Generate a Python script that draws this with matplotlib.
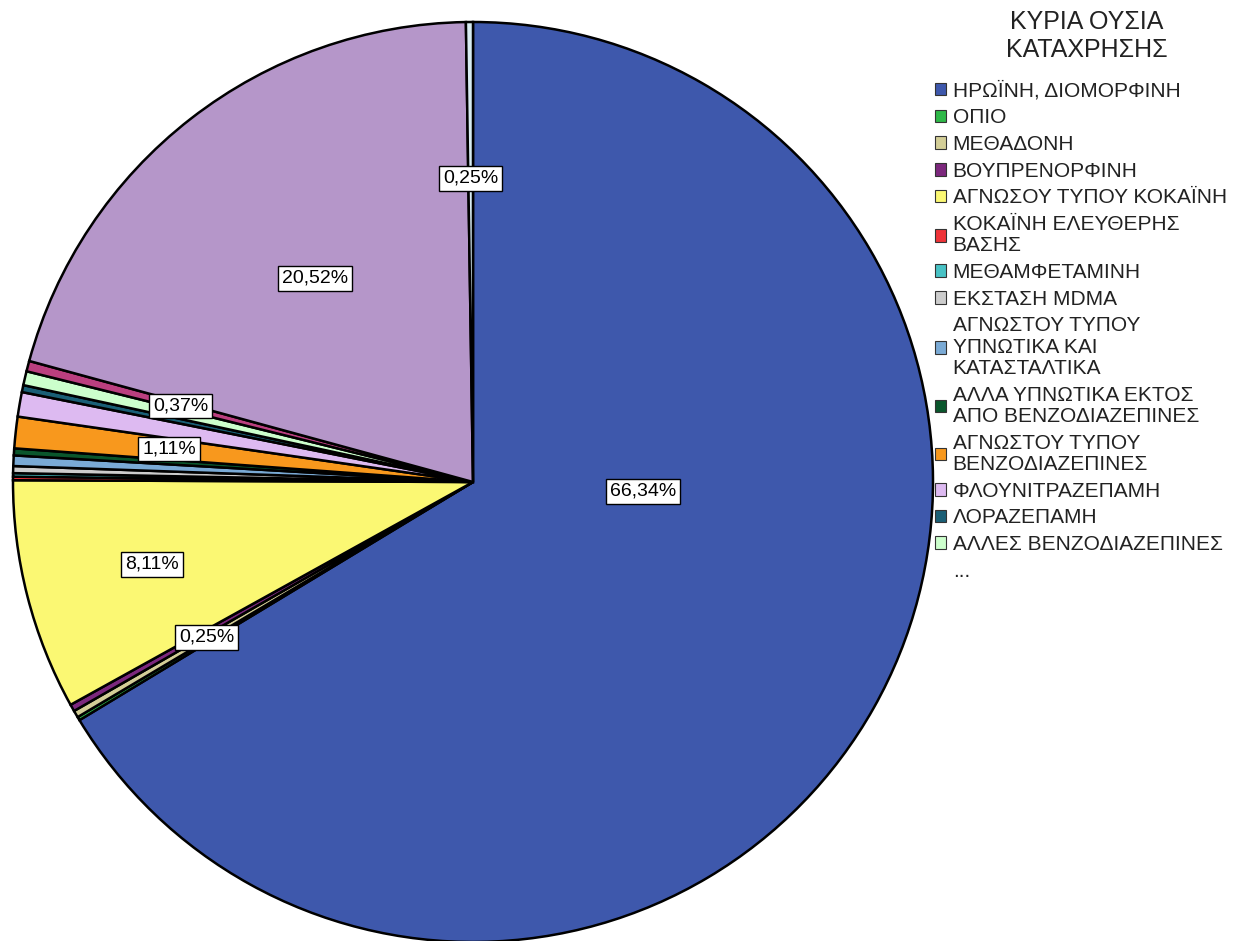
import matplotlib.pyplot as plt
from matplotlib.patches import Patch
import numpy as np

plt.rcParams['font.family'] = ['Liberation Sans', 'DejaVu Sans']

# case counts per substance (N = 814)
categories = ["ΗΡΩΪΝΗ, ΔΙΟΜΟΡΦΙΝΗ", "ΟΠΙΟ", "ΜΕΘΑΔΟΝΗ", "ΒΟΥΠΡΕΝΟΡΦΙΝΗ",
              "ΑΓΝΩΣΟΥ ΤΥΠΟΥ ΚΟΚΑΪΝΗ", "ΚΟΚΑΪΝΗ ΕΛΕΥΘΕΡΗΣ\nΒΑΣΗΣ", "ΜΕΘΑΜΦΕΤΑΜΙΝΗ",
              "ΕΚΣΤΑΣΗ MDMA", "ΑΓΝΩΣΤΟΥ ΤΥΠΟΥ\nΥΠΝΩΤΙΚΑ ΚΑΙ\nΚΑΤΑΣΤΑΛΤΙΚΑ",
              "ΑΛΛΑ ΥΠΝΩΤΙΚΑ ΕΚΤΟΣ\nΑΠΟ ΒΕΝΖΟΔΙΑΖΕΠΙΝΕΣ", "ΑΓΝΩΣΤΟΥ ΤΥΠΟΥ\nΒΕΝΖΟΔΙΑΖΕΠΙΝΕΣ",
              "ΦΛΟΥΝΙΤΡΑΖΕΠΑΜΗ", "ΛΟΡΑΖΕΠΑΜΗ", "ΑΛΛΕΣ ΒΕΝΖΟΔΙΑΖΕΠΙΝΕΣ",
              "", "", ""]  # last three are hidden behind "..." in the legend
counts = [540, 1, 2, 2, 66, 1, 1, 2, 3, 2, 9, 7, 2, 4, 3, 167, 2]
colors = ["#3e58ac", "#2eb848", "#d3ce97", "#7c287d", "#fbf873", "#ef3338",
          "#48c2c5", "#cccccc", "#7aaad5", "#0a562c", "#f8981d", "#ddbaf1",
          "#1a5f76", "#ccffcc", "#bb3f7f", "#b596c9", "#d8ecf2"]
labeled = [0, 2, 4, 10, 14, 15, 16]
label_r = {0: 0.37, 2: 0.67, 4: 0.72, 10: 0.665, 14: 0.656, 15: 0.56, 16: 0.66}
n_legend = 14
legend_title = "ΚΥΡΙΑ ΟΥΣΙΑ\nΚΑΤΑΧΡΗΣΗΣ"

fig = plt.figure(figsize=(12.44, 9.41), dpi=100)
R = 460
cx, cy = 473, 482
ax = fig.add_axes([(cx - R) / 1244, (941 - cy - R) / 941, 2 * R / 1244, 2 * R / 941])

wedges, _ = ax.pie(counts, colors=colors, startangle=90, counterclock=False,
                   radius=1, wedgeprops=dict(edgecolor='black', linewidth=1.8))
ax.set_xlim(-1, 1)
ax.set_ylim(-1, 1)
ax.set_aspect('auto')
ax.axis('off')

total = sum(counts)
cum = np.cumsum([0] + counts[:-1])
for i in labeled:
    pct = counts[i] / total * 100
    txt = f"{pct:.2f}%".replace('.', ',')
    if i == 0:
        x, y = 0.37, -0.02
    else:
        theta = np.deg2rad(90 - 360 * (cum[i] + counts[i] / 2) / total)
        x, y = label_r[i] * np.cos(theta), label_r[i] * np.sin(theta)
    ax.text(x, y, txt, ha='center', va='center', fontsize=14,
            bbox=dict(boxstyle='square,pad=0.2', fc='white', ec='black', lw=1))

# legend title drawn separately so its gap to the entries can be set
fig.text(1087 / 1244, 1 - 36 / 941, legend_title, ha='center', va='center',
         fontsize=18, linespacing=1.25, color='#222222')

handles = [Patch(facecolor=colors[i], edgecolor='#333333', linewidth=0.8) for i in range(n_legend)]
handles.append(Patch(facecolor='none', edgecolor='none'))
leg = fig.legend(handles, categories[:n_legend] + ["..."], loc='upper left',
                 bbox_to_anchor=(935 / 1244, 1 - 81 / 941), frameon=False,
                 fontsize=15, handlelength=0.55, handleheight=0.55, handletextpad=0.3,
                 labelspacing=0.37, borderaxespad=0, borderpad=0)
for t in leg.get_texts():
    t.set_linespacing(1.15)
    t.set_color('#222222')

fig.savefig('out.png', dpi=100)
